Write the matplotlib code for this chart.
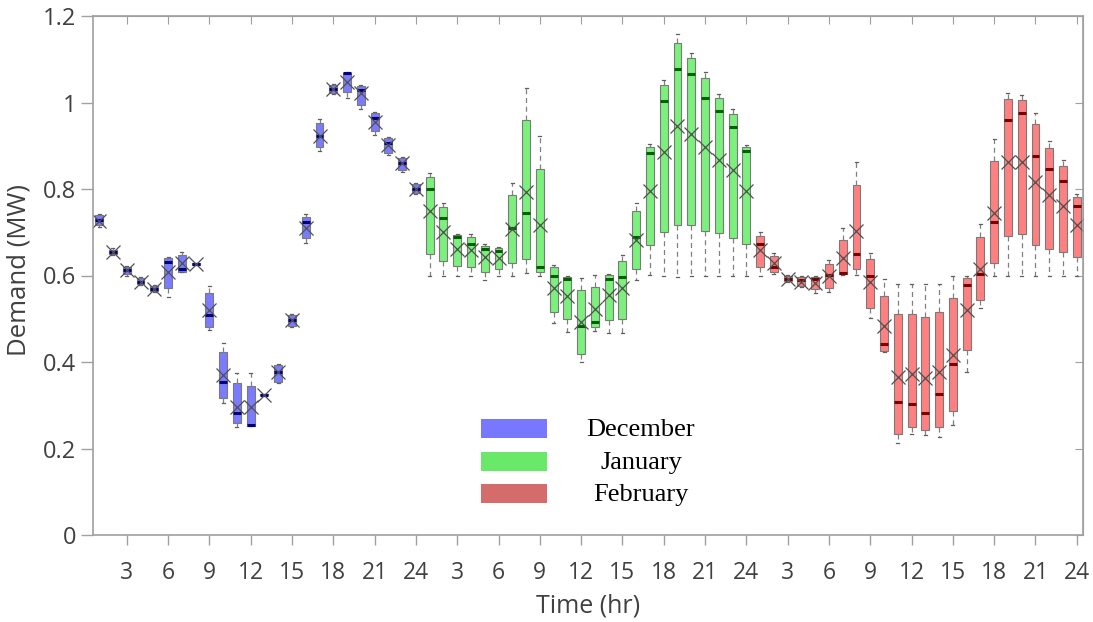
import matplotlib
matplotlib.use("Agg")
import matplotlib.pyplot as plt
from matplotlib.patches import Rectangle

# hourly demand statistics (MW): whisker low, q1, median, q3, whisker high, mean
months = ["December", "January", "February"]

dec_lo = [0.712, 0.648, 0.600, 0.578, 0.563, 0.550, 0.608, 0.624, 0.474, 0.305, 0.250, 0.252,
          0.322, 0.352, 0.481, 0.676, 0.888, 1.020, 1.010, 0.985, 0.926, 0.878, 0.840, 0.789]
dec_q1 = [0.717, 0.650, 0.603, 0.580, 0.565, 0.571, 0.608, 0.625, 0.481, 0.317, 0.259, 0.252,
          0.323, 0.354, 0.483, 0.686, 0.897, 1.022, 1.025, 0.994, 0.934, 0.883, 0.844, 0.791]
dec_med = [0.728, 0.655, 0.612, 0.586, 0.569, 0.631, 0.615, 0.627, 0.509, 0.354, 0.282, 0.255,
           0.324, 0.378, 0.497, 0.723, 0.923, 1.031, 1.068, 1.029, 0.964, 0.907, 0.860, 0.801]
dec_q3 = [0.740, 0.660, 0.619, 0.594, 0.575, 0.640, 0.647, 0.629, 0.560, 0.423, 0.351, 0.345,
          0.325, 0.393, 0.509, 0.735, 0.952, 1.040, 1.069, 1.037, 0.975, 0.918, 0.872, 0.812]
dec_hi = [0.742, 0.663, 0.622, 0.596, 0.577, 0.643, 0.655, 0.630, 0.576, 0.444, 0.375, 0.375,
          0.326, 0.396, 0.511, 0.742, 0.962, 1.042, 1.071, 1.040, 0.979, 0.921, 0.875, 0.814]
dec_mean = [0.727, 0.655, 0.612, 0.586, 0.569, 0.609, 0.629, 0.627, 0.520, 0.370, 0.297, 0.296,
            0.324, 0.376, 0.497, 0.710, 0.922, 1.031, 1.048, 1.022, 0.956, 0.902, 0.860, 0.801]

jan_lo = [0.599, 0.599, 0.599, 0.599, 0.590, 0.599, 0.599, 0.605, 0.600, 0.491, 0.470, 0.401,
          0.472, 0.468, 0.468, 0.590, 0.601, 0.599, 0.597, 0.599, 0.599, 0.599, 0.599, 0.599]
jan_q1 = [0.650, 0.634, 0.622, 0.619, 0.609, 0.615, 0.628, 0.637, 0.607, 0.516, 0.499, 0.418,
          0.480, 0.497, 0.499, 0.614, 0.671, 0.701, 0.717, 0.717, 0.704, 0.698, 0.686, 0.673]
jan_med = [0.801, 0.732, 0.688, 0.673, 0.661, 0.657, 0.709, 0.745, 0.620, 0.600, 0.592, 0.483,
           0.493, 0.593, 0.597, 0.688, 0.883, 1.003, 1.077, 1.065, 1.011, 0.981, 0.944, 0.888]
jan_q3 = [0.828, 0.758, 0.694, 0.690, 0.669, 0.664, 0.785, 0.960, 0.846, 0.619, 0.597, 0.566,
          0.574, 0.601, 0.634, 0.748, 0.898, 1.040, 1.138, 1.102, 1.056, 1.010, 0.973, 0.898]
jan_hi = [0.838, 0.768, 0.696, 0.696, 0.673, 0.666, 0.813, 1.033, 0.923, 0.624, 0.600, 0.595,
          0.601, 0.603, 0.647, 0.768, 0.904, 1.052, 1.158, 1.114, 1.071, 1.020, 0.984, 0.902]
jan_mean = [0.748, 0.701, 0.661, 0.659, 0.642, 0.640, 0.708, 0.792, 0.717, 0.570, 0.553, 0.493,
            0.522, 0.555, 0.570, 0.682, 0.796, 0.886, 0.946, 0.927, 0.896, 0.867, 0.844, 0.796]

feb_lo = [0.600, 0.603, 0.585, 0.574, 0.560, 0.563, 0.601, 0.601, 0.501, 0.422, 0.212, 0.233,
          0.232, 0.227, 0.254, 0.378, 0.524, 0.599, 0.599, 0.599, 0.599, 0.599, 0.599, 0.599]
feb_q1 = [0.619, 0.607, 0.587, 0.576, 0.568, 0.571, 0.603, 0.614, 0.526, 0.426, 0.234, 0.249,
          0.243, 0.249, 0.287, 0.428, 0.543, 0.630, 0.691, 0.695, 0.671, 0.661, 0.655, 0.642]
feb_med = [0.672, 0.620, 0.593, 0.590, 0.593, 0.601, 0.605, 0.650, 0.599, 0.442, 0.308, 0.302,
           0.281, 0.326, 0.395, 0.578, 0.603, 0.723, 0.960, 0.976, 0.876, 0.846, 0.819, 0.761]
feb_q3 = [0.691, 0.644, 0.599, 0.596, 0.597, 0.626, 0.683, 0.809, 0.637, 0.553, 0.511, 0.510,
          0.505, 0.516, 0.549, 0.595, 0.690, 0.865, 1.007, 1.006, 0.950, 0.894, 0.854, 0.781]
feb_hi = [0.700, 0.653, 0.601, 0.598, 0.599, 0.636, 0.709, 0.862, 0.651, 0.591, 0.580, 0.580,
          0.580, 0.580, 0.600, 0.600, 0.719, 0.915, 1.023, 1.017, 0.975, 0.912, 0.867, 0.788]
feb_mean = [0.659, 0.628, 0.593, 0.586, 0.582, 0.599, 0.640, 0.704, 0.586, 0.483, 0.366, 0.372,
            0.362, 0.378, 0.416, 0.520, 0.614, 0.745, 0.863, 0.863, 0.817, 0.786, 0.761, 0.717]

box_colors = ["#7b7bff", "#7cf07c", "#ff8080"]
median_colors = ["#00007a", "#006000", "#7a0000"]
legend_colors = ["#7878ff", "#6ae86a", "#d46c6c"]

tick_pos = list(range(3, 73, 3))
tick_labels = [str(h) for h in range(3, 25, 3)] * 3

plt.rcParams["font.family"] = ["Open Sans", "DejaVu Sans"]
txt = "#404040"
edge = "#a0a0a0"

fig = plt.figure(figsize=(10.93, 6.22), dpi=100)
ax = fig.add_axes([93 / 1093, 87 / 622, 990 / 1093, 519 / 622])

data = [
    (dec_lo, dec_q1, dec_med, dec_q3, dec_hi, dec_mean),
    (jan_lo, jan_q1, jan_med, jan_q3, jan_hi, jan_mean),
    (feb_lo, feb_q1, feb_med, feb_q3, feb_hi, feb_mean),
]

for m, (lo, q1, med, q3, hi, mean) in enumerate(data):
    stats = []
    for i in range(24):
        stats.append(dict(whislo=lo[i], q1=q1[i], med=med[i], q3=q3[i],
                          whishi=hi[i], mean=mean[i], fliers=[]))
    pos = [m * 24 + i + 1 for i in range(24)]
    ax.bxp(stats, positions=pos, widths=0.58, patch_artist=True,
           showmeans=True, showfliers=False, manage_ticks=False, capwidths=0.22,
           boxprops=dict(facecolor=box_colors[m], edgecolor="#7a7a7a", linewidth=0.8),
           medianprops=dict(color=median_colors[m], linewidth=2.2),
           whiskerprops=dict(color="#808080", linewidth=0.9, linestyle=(0, (4, 3))),
           capprops=dict(color="#606060", linewidth=0.9),
           meanprops=dict(marker="x", markersize=10.5, markeredgecolor="#505050",
                          markeredgewidth=0.9))

ax.set_xlim(0.55, 72.45)
ax.set_ylim(0, 1.2)
ax.set_xticks(tick_pos)
ax.set_xticklabels(tick_labels)
ax.set_yticks([0, 0.2, 0.4, 0.6, 0.8, 1.0, 1.2])
ax.set_yticklabels(["0", "0.2", "0.4", "0.6", "0.8", "1", "1.2"])
ax.tick_params(axis="x", direction="out", length=7, width=1, color=edge,
               labelsize=16.5, labelcolor=txt, pad=12)
ax.tick_params(axis="y", direction="out", length=9, width=1, color=edge,
               labelsize=17, labelcolor=txt, pad=3)
for s in ax.spines.values():
    s.set_color(edge)
    s.set_linewidth(1.2)

top = ax.secondary_xaxis("top")
top.set_xticks(tick_pos)
top.tick_params(direction="in", length=6, color=edge, labeltop=False)
top.spines["top"].set_color(edge)
right = ax.secondary_yaxis("right")
right.set_yticks([0, 0.2, 0.4, 0.6, 0.8, 1.0, 1.2])
right.tick_params(direction="in", length=6, color=edge, labelright=False)
right.spines["right"].set_color(edge)

ax.set_ylabel("Demand (MW)", fontsize=18.5, color=txt)
ax.yaxis.set_label_coords(-0.062, 0.51)
ax.set_xlabel("Time (hr)", fontsize=18, color=txt)
ax.xaxis.set_label_coords(0.5, -0.113)

# legend: colour swatch with a centred serif label
rows_y = [428, 461.5, 493.5]
for name, col, yy in zip(months, legend_colors, rows_y):
    fy = 1 - yy / 622
    fig.patches.append(Rectangle((481 / 1093, fy - 9.5 / 622), 66 / 1093, 19 / 622,
                                 transform=fig.transFigure, facecolor=col,
                                 edgecolor="none", figure=fig))
    fig.text(641 / 1093, fy - 2 / 622, name, ha="center", va="center", fontsize=19,
             family=["Liberation Serif", "DejaVu Serif"], color="black")

fig.savefig("out.png", dpi=100)
